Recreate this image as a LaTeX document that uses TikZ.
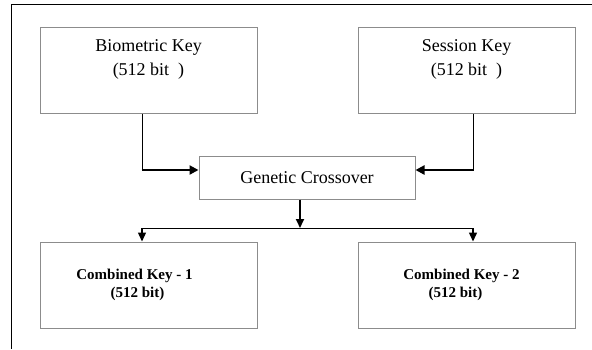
\documentclass[tikz,border=0pt]{standalone}
\usepackage{fontspec}
\setmainfont{Liberation Serif}
\usetikzlibrary{arrows.meta}
\usetikzlibrary{positioning}

\begin{document}
\begin{tikzpicture}[x=1pt, y=-1pt,
        nodes={align=center, inner sep=0pt},
        key_style/.style={rectangle, draw=gray!90, line width=1pt,
          minimum width=217pt, minimum height=86pt,
          font={\fontsize{18}{24}\selectfont}},
        out_style/.style={key_style, font={\fontsize{15}{18}\selectfont\bfseries}},
        step_style/.style={rectangle, draw=gray!90, line width=1pt,
          minimum width=216pt, minimum height=43pt,
          font={\fontsize{18}{22}\selectfont}},
        thin_line/.style={line width=1pt},
        thick_arrow/.style={line width=2.2pt, -{Triangle[length=9pt, width=9pt]}},
        down_arrow/.style={line width=1.4pt, -{Triangle[length=9pt, width=8pt]}}]

      \useasboundingbox (0,0) rectangle (592,349);

      % frame
      \draw[line width=1pt] (592,4) -- (11,4) -- (11,349);

      \node[key_style] (bio_key) at (148.5,70) {Biometric Key\\(512 bit~~)\\~};
      \node[key_style] (sess_key) at (466.5,70) {Session Key\\(512 bit~~)\\~};
      \node[step_style] (gen_cross) at (307,177.5) {Genetic Crossover};
      \node[out_style] (comb_one) at (148.5,285) {\hspace*{-28pt}Combined Key - 1\\\hspace*{-22pt}(512 bit)};
      \node[out_style] (comb_two) at (466.5,285) {\hspace*{-10pt}Combined Key - 2\\\hspace*{-22pt}(512 bit)};

      \coordinate (bio_turn) at (142,170);
      \coordinate (sess_turn) at (473,170);
      \coordinate (split) at (300,228);
      \coordinate (left_end) at (142,228);
      \coordinate (right_end) at (473,228);

      \draw[thin_line] (bio_key.south -| bio_turn) -- (bio_turn);
      \draw[thick_arrow] ([xshift=-0.5pt]bio_turn) -- (gen_cross.west |- bio_turn);
      \draw[thin_line] (sess_key.south -| sess_turn) -- (sess_turn);
      \draw[thick_arrow] ([xshift=0.5pt]sess_turn) -- (gen_cross.east |- sess_turn);

      \draw[down_arrow, line width=2pt] (gen_cross.south -| split) -- (split);
      \draw[thin_line] (left_end) -- (right_end);
      \draw[down_arrow] (left_end) -- (comb_one.north -| left_end);
      \draw[down_arrow] (right_end) -- (comb_two.north -| right_end);
    \end{tikzpicture}
\end{document}
